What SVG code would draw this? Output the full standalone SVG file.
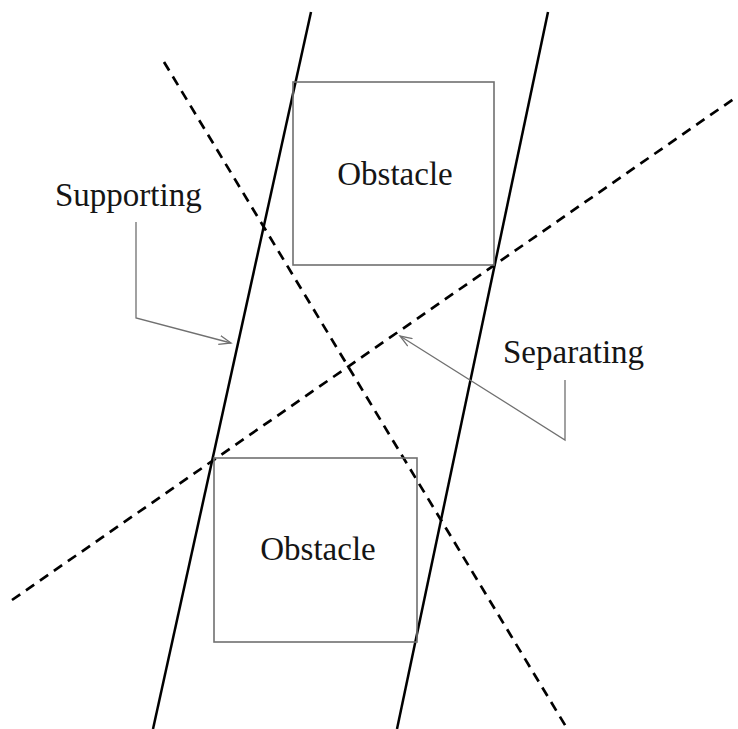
<svg xmlns="http://www.w3.org/2000/svg" width="738" height="729" viewBox="0 0 738 729">
<style>
.solid{stroke:#000;stroke-width:2.5;fill:none}
.dash{stroke:#000;stroke-width:2.7;fill:none;stroke-dasharray:10 7}
.box{stroke:#707070;stroke-width:1.6;fill:none}
.lead{stroke:#707070;stroke-width:1.3;fill:none}
.lbl{font-family:"Liberation Serif","Times New Roman",serif;font-size:33px;fill:#151515}
</style>
<defs>
<marker id="arr" markerWidth="14" markerHeight="10" refX="12" refY="5" orient="auto" markerUnits="userSpaceOnUse">
<path d="M0,0.5 L12,5 L0,9.5" fill="none" stroke="#707070" stroke-width="1.3"/>
</marker>
</defs>
<g id="connectors">
<line class="solid" x1="311" y1="12" x2="153" y2="729"/>
<line class="solid" x1="548" y1="12" x2="397" y2="729"/>
<line class="dash" x1="164" y1="62" x2="568" y2="730"/>
<line class="dash" x1="12" y1="600" x2="735" y2="98"/>
<polyline class="lead" points="136,222 136,318 231,343" marker-end="url(#arr)"/>
<polyline class="lead" points="565,380 565,440 400,336" marker-end="url(#arr)"/>
</g>
<g id="obstacle-top">
<rect class="box" x="293" y="82" width="201" height="183"/>
<text class="lbl" x="395" y="185" text-anchor="middle">Obstacle</text>
</g>
<g id="obstacle-bottom">
<rect class="box" x="214" y="458" width="203" height="184"/>
<text class="lbl" x="318" y="560" text-anchor="middle">Obstacle</text>
</g>
<g id="label-supporting">
<text class="lbl" x="55" y="206">Supporting</text>
</g>
<g id="label-separating">
<text class="lbl" x="503" y="363">Separating</text>
</g>
</svg>
